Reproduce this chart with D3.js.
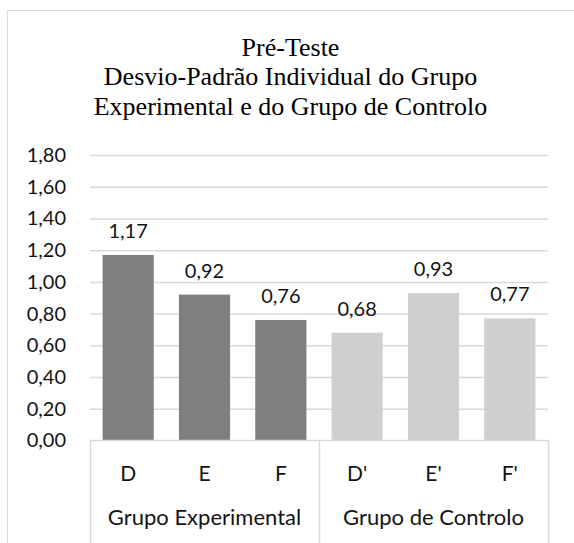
<!DOCTYPE html>
<html>
<head>
<meta charset="utf-8">
<script src="https://cdn.jsdelivr.net/npm/d3@7"></script>
<style>
  body { margin: 0; background: #fff; }
  .tick text { font-family: Lato, "Open Sans", sans-serif; }
</style>
</head>
<body>
<div id="card"></div>
<script>
// chart data
const categories = ["D", "E", "F", "D'", "E'", "F'"];
const groups = ["Grupo Experimental", "Grupo Experimental", "Grupo Experimental",
                "Grupo de Controlo", "Grupo de Controlo", "Grupo de Controlo"];
const values = [1.17, 0.92, 0.76, 0.68, 0.93, 0.77];
const groupNames = ["Grupo Experimental", "Grupo de Controlo"];
const yTicks = [0, 0.2, 0.4, 0.6, 0.8, 1.0, 1.2, 1.4, 1.6, 1.8];
const titleLines = ["Pré-Teste", "Desvio-Padrão Individual do Grupo", "Experimental e do Grupo de Controlo"];

const w = 574;
const h = 543;
const margin = { top: 155, bottom: 102.5, left: 90, right: 26 };
const width = w - (margin.left + margin.right);
const height = h - (margin.top + margin.bottom);

const fmt = d => d.toFixed(2).replace(".", ",");
const textColor = "#141414";
const lineColor = "#d9d9d9";

const svg = d3.select("#card")
  .append("svg")
    .attr("width", w)
    .attr("height", h);

//outer chart border (cut off on the right and bottom)
svg.append("rect")
  .attr("x", 7.5)
  .attr("y", 10.5)
  .attr("width", 600)
  .attr("height", 600)
  .attr("fill", "none")
  .attr("stroke", lineColor);

//title
svg.append("g")
  .selectAll("text")
  .data(titleLines)
  .enter()
    .append("text")
    .attr("x", 290.5)
    .attr("y", (d, i) => 55.5 + i * 29.5)
    .attr("text-anchor", "middle")
    .style("font-family", "'Liberation Serif', 'Times New Roman', serif")
    .style("font-size", "26px")
    .style("fill", "#000")
    .text(d => d);

const chart = svg.append("g")
  .attr("transform", "translate(" + margin.left + "," + margin.top + ")");

const x = d3.scaleBand()
  .domain(categories)
  .range([0, width])
  .paddingInner(0.33)
  .paddingOuter(0.165);

const y = d3.scaleLinear()
  .domain([0, 1.8])
  .range([height, 0]);

//gridlines
const yGridLines = d3.axisLeft(y)
  .tickValues(yTicks.slice(1))
  .tickSize(-width)
  .tickFormat("");

chart.append("g")
  .call(yGridLines)
  .call(g => g.select(".domain").remove())
  .call(g => g.selectAll("line").attr("stroke", lineColor).attr("stroke-width", 1.5));

//y axis labels
chart.append("g")
  .call(d3.axisLeft(y).tickValues(yTicks).tickFormat(fmt).tickSize(0).tickPadding(24))
  .call(g => g.select(".domain").remove())
  .call(g => g.selectAll("text")
    .style("font-size", "20px")
    .style("fill", textColor));

//bars
chart.selectAll(".bar")
  .data(values)
  .enter()
    .append("rect")
    .classed("bar", true)
    .attr("x", (d, i) => x(categories[i]))
    .attr("y", d => y(d))
    .attr("width", x.bandwidth())
    .attr("height", d => height - y(d))
    .attr("fill", (d, i) => groups[i] === groupNames[0] ? "#7f7f7f" : "#d0cece");

//data labels
chart.selectAll(".label")
  .data(values)
  .enter()
    .append("text")
    .classed("label", true)
    .attr("x", (d, i) => x(categories[i]) + x.bandwidth() / 2)
    .attr("y", d => y(d) - 17)
    .attr("text-anchor", "middle")
    .style("font-family", "Lato, 'Open Sans', sans-serif")
    .style("font-size", "20px")
    .style("fill", textColor)
    .text(fmt);

//category axis
const xAxis = chart.append("g")
  .attr("transform", "translate(0," + height + ")");

xAxis.append("line")
  .attr("x1", 0).attr("x2", width)
  .attr("y1", 0).attr("y2", 0)
  .attr("stroke", lineColor)
  .attr("stroke-width", 1.5);

const dividers = [0, 3, 6];
xAxis.selectAll(".divider")
  .data(dividers)
  .enter()
    .append("line")
    .classed("divider", true)
    .attr("x1", d => Math.round(d * width / 6) + 0.5)
    .attr("x2", d => Math.round(d * width / 6) + 0.5)
    .attr("y1", 0)
    .attr("y2", 110)
    .attr("stroke", lineColor)
    .attr("stroke-width", 1.5);

xAxis.selectAll(".cat")
  .data(categories)
  .enter()
    .append("text")
    .classed("cat", true)
    .attr("x", d => x(d) + x.bandwidth() / 2)
    .attr("y", 40)
    .attr("text-anchor", "middle")
    .style("font-family", "Lato, 'Open Sans', sans-serif")
    .style("font-size", "21px")
    .style("fill", textColor)
    .text(d => d);

xAxis.selectAll(".grp")
  .data(groupNames)
  .enter()
    .append("text")
    .classed("grp", true)
    .attr("x", (d, i) => (i * 3 + 1.5) * width / 6)
    .attr("y", 84.5)
    .attr("text-anchor", "middle")
    .style("font-family", "Lato, 'Open Sans', sans-serif")
    .style("font-size", "22px")
    .style("fill", textColor)
    .text(d => d);
</script>
</body>
</html>
